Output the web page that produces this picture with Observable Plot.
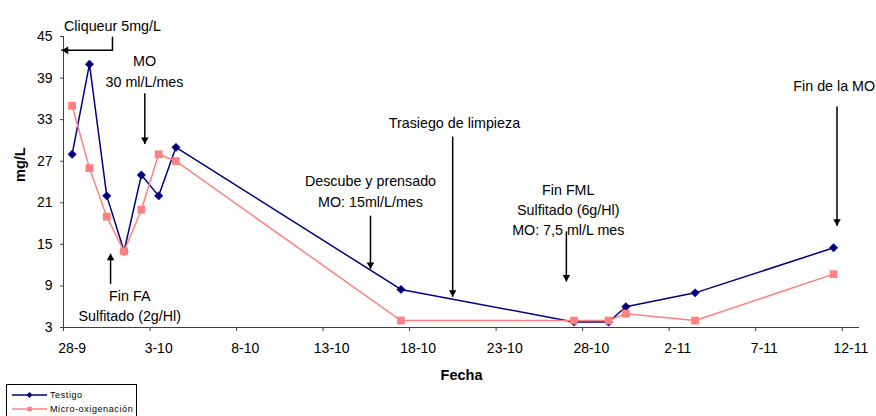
<!DOCTYPE html>
<html>
<head>
<meta charset="utf-8">
<script src="https://cdn.jsdelivr.net/npm/d3@7"></script>
<script src="https://cdn.jsdelivr.net/npm/@observablehq/plot@0.6"></script>
<style>
  html, body { margin: 0; padding: 0; background: #fff; }
  #wrap { position: relative; width: 876px; height: 416px; overflow: hidden; font-family: "Liberation Sans", Arial, sans-serif; }
  #legend { position: absolute; left: 6px; top: 384px; width: 131px; height: 40px; border: 1px solid #000; background: #fff; box-sizing: border-box; }
  .row { position: absolute; left: 0; height: 12px; display: flex; align-items: center; }
  .row svg { display: block; }
  .row span { font-size: 9px; letter-spacing: 0.6px; color: #000; margin-left: 3px; white-space: nowrap; }
</style>
</head>
<body>
<div id="wrap"></div>
<script>
// ---- data ----
const dates = ["2008-09-28","2008-09-29","2008-09-30","2008-10-01","2008-10-02","2008-10-03","2008-10-04",
               "2008-10-17","2008-10-27","2008-10-29","2008-10-30","2008-11-03","2008-11-11"];
const testigo = [28, 41, 22, 14, 25, 22, 29, 8.5, 3.8, 3.8, 6, 8, 14.5];
const micro   = [35, 26, 19, 14, 20, 28, 27, 4, 4, 4, 5, 4, 10.7];
const seriesNames = ["Testigo", "Micro-oxigenación"];

const tickDates  = ["2008-09-28","2008-10-03","2008-10-08","2008-10-13","2008-10-18","2008-10-23","2008-10-28","2008-11-02","2008-11-07","2008-11-12"];
const tickLabels = ["28-9","3-10","8-10","13-10","18-10","23-10","28-10","2-11","7-11","12-11"];
const yTicks = [3, 9, 15, 21, 27, 33, 39, 45];

// annotations (x in days after 28-9, y in mg/L)
const noteTexts  = ["Cliqueur 5mg/L", "MO\n30 ml/L/mes", "Fin FA\nSulfitado (2g/Hl)", "Descube y prensado\nMO: 15ml/L/mes",
                    "Trasiego de limpieza", "Fin FML\nSulfitado (6g/Hl)\nMO: 7,5 ml/L mes", "Fin de la MO"];
const noteDays   = [2.83, 4.68, 3.83, 17.74, 22.59, 29.17, 44.54];
const noteValues = [46.7, 40.17, 6.28, 22.85, 32.8, 20.2, 38.07];

const arrowDays  = [4.70, 2.72, 17.74, 22.49, 29.06, 44.70];
const arrowStart = [36.8, 9.31, 19.14, 30.55, 16.87, 34.89];
const arrowEnd   = [29.5, 13.65, 11.44, 7.44, 9.65, 17.69];

// Cliqueur bracket: down from the label, then left to the axis
const bracketDays   = [2.83, 2.83, -0.1];
const bracketValues = [44.9, 43, 43];

// ---- build ----
const T0 = Date.UTC(2008, 8, 28);
const dayToDate = d => new Date(T0 + d * 864e5);
const noon = s => new Date(s + "T12:00:00Z");   // Excel date axis: points between tick marks
const midnight = s => new Date(s + "T00:00:00Z");

const blue = "#000080", pink = "#FF8080";

const rowsT = dates.map((d, i) => ({date: noon(d), v: testigo[i]}));
const rowsM = dates.map((d, i) => ({date: noon(d), v: micro[i]}));
const notes = noteTexts.map((t, i) => ({t, x: dayToDate(noteDays[i]), y: noteValues[i]}));
const arrows = arrowDays.map((d, i) => ({x: dayToDate(d), y1: arrowStart[i], y2: arrowEnd[i]}));
const downArrows = arrows.filter(a => a.y2 < a.y1);
const upArrows = arrows.filter(a => a.y2 > a.y1);
const bracket = bracketDays.map((d, i) => ({x: dayToDate(d), y: bracketValues[i]}));
const bracketTip = [bracket[bracket.length - 1]];

const labelMap = new Map(tickDates.map((s, i) => [noon(s).getTime(), tickLabels[i]]));

const axisColor = "#404040";

const chart = Plot.plot({
  width: 876,
  height: 384,
  marginLeft: 63,
  marginRight: 17,
  marginTop: 36,
  marginBottom: 57,
  style: {fontFamily: "'Liberation Sans', Arial, sans-serif", fontSize: "14px", color: "#000", background: "#fff", overflow: "visible"},
  x: {type: "utc", domain: [midnight("2008-09-28"), midnight("2008-11-13")]},
  y: {domain: [3, 45]},
  marks: [
    Plot.ruleY([3], {stroke: axisColor}),
    Plot.ruleX([midnight("2008-09-28")], {stroke: axisColor}),
    Plot.axisY(yTicks, {tickSize: 3, tickPadding: 8, stroke: axisColor, label: null, fontSize: 14}),
    Plot.axisX(tickDates.map(midnight), {tickSize: 4, tickFormat: () => "", stroke: axisColor, label: null}),
    Plot.axisX(tickDates.map(noon), {tickSize: 0, tickPadding: 16, tickFormat: d => labelMap.get(d.getTime()), label: null, fontSize: 14}),
    Plot.text(["mg/L"], {frameAnchor: "left", dx: -43, rotate: -90, fontWeight: "bold", fontSize: 14.5}),
    Plot.text(["Fecha"], {frameAnchor: "bottom", dy: 52, fontWeight: "bold", fontSize: 14.5}),

    Plot.line(rowsT, {x: "date", y: "v", stroke: blue, strokeWidth: 1.5}),
    Plot.dot(rowsT, {x: "date", y: "v", symbol: "diamond2", r: 3.8, fill: blue, stroke: blue, strokeWidth: 0.5}),
    Plot.line(rowsM, {x: "date", y: "v", stroke: pink, strokeWidth: 1.5}),
    Plot.dot(rowsM, {x: "date", y: "v", symbol: "square", r: 4.4, fill: pink}),

    // annotation arrows
    Plot.link(arrows, {x1: "x", x2: "x", y1: "y1", y2: "y2", stroke: "#000", strokeWidth: 1.5}),
    Plot.dot(downArrows, {x: "x", y: "y2", symbol: "triangle", r: 2.8, fill: "#000", rotate: 180, dy: -4.3}),
    Plot.dot(upArrows, {x: "x", y: "y2", symbol: "triangle", r: 2.8, fill: "#000", rotate: 0, dy: 4.3}),
    Plot.line(bracket, {x: "x", y: "y", stroke: "#000", strokeWidth: 1.5}),
    Plot.dot(bracketTip, {x: "x", y: "y", symbol: "triangle", r: 2.8, fill: "#000", rotate: -90, dx: 4.3}),
    Plot.text(notes, {x: "x", y: "y", text: "t", fontSize: 14.3, lineHeight: 1.42, fill: "#000"})
  ]
});

const wrap = document.getElementById("wrap");
wrap.appendChild(chart);

// legend
const legend = document.createElement("div");
legend.id = "legend";
const mk = (name, color, isDiamond, top) => {
  const row = document.createElement("div");
  row.className = "row";
  row.style.top = top + "px";
  row.style.left = "5px";
  const s = d3.create("svg").attr("width", 35).attr("height", 12);
  s.append("line").attr("x1", 0).attr("x2", 35).attr("y1", 6).attr("y2", 6).attr("stroke", color).attr("stroke-width", 1.5);
  s.append("path")
    .attr("d", d3.symbol(d3.symbolSquare, isDiamond ? 18 : 20)())
    .attr("fill", color)
    .attr("transform", isDiamond ? "translate(17.5,6) rotate(45)" : "translate(17.5,6)");
  row.appendChild(s.node());
  const t = document.createElement("span");
  t.textContent = name;
  row.appendChild(t);
  legend.appendChild(row);
};
mk(seriesNames[0], blue, true, 4);
mk(seriesNames[1], pink, false, 18);
wrap.appendChild(legend);
</script>
</body>
</html>
